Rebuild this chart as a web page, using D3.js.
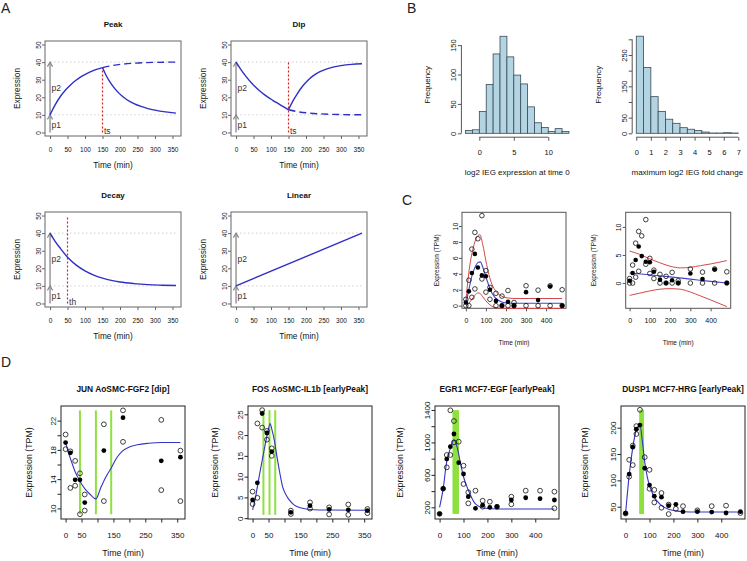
<!DOCTYPE html>
<html><head><meta charset="utf-8">
<script src="https://cdn.jsdelivr.net/npm/d3@7"></script>
<style>body{margin:0;background:#fff}</style>
</head><body><svg id="c" width="747" height="561" xmlns="http://www.w3.org/2000/svg"></svg>
<script>
// ---------------- DATA ----------------
// Panel A (model shapes)
const aTicksX = [0,50,100,150,200,250,300,350];
const aTicksY = [0,10,20,30,40,50];
const peakRise = [[0,10],[15,15.8],[30,20.6],[45,24.3],[60,27.3],[75,29.8],[90,31.9],[105,33.5],[120,34.9],[135,36],[150,36.9]];
const peakFall = [[150,36.9],[160,32.5],[175,27.6],[190,23.8],[205,20.9],[220,18.6],[240,16.4],[260,14.8],[280,13.6],[300,12.7],[330,11.7],[360,11.0]];
const peakDash = [[150,36.9],[180,38.1],[210,38.9],[240,39.4],[270,39.7],[300,39.85],[330,39.95],[360,40]];
const dipFall = [[0,40],[15,35.5],[30,31.5],[45,28],[60,25],[75,22.4],[90,20.2],[105,18.3],[120,16.5],[135,14.7],[150,12.9]];
const dipRise = [[150,12.9],[160,17],[175,22],[190,26.3],[205,29.6],[220,32.2],[240,34.6],[260,36.2],[280,37.3],[300,38],[330,38.7],[360,39.1]];
const dipDash = [[150,12.9],[180,11.7],[210,11],[240,10.6],[270,10.35],[300,10.2],[330,10.1],[360,10.05]];
const decayCurve = [[0,40],[15,35.2],[30,31.2],[50,26.3],[75,21.8],[100,18.5],[125,16.1],[150,14.4],[175,13.1],[200,12.2],[240,11.3],[280,10.7],[320,10.4],[360,10.2]];
const linearCurve = [[0,10],[360,40]];
const levelP1 = 10, levelP2 = 40;

// Panel B histograms
const hist1Edges = [-2,-1,0,1,2,3,4,5,6,7,8,9,10,11,12];
const hist1Counts = [5,6,37,83,135,165,130,99,84,45,18,10,3,8,3];
const hist2Edges = [0,0.5,1,1.5,2,2.5,3,3.5,4,4.5,5,5.5,6,6.5];
const hist2Counts = [310,210,117,70,45,32,18,13,9,4,1,1,2,1];

// Panel C
const cTime = [0,15,30,45,60,80,100,120,150,180,210,240,300,360,420,480];
const cMean = [0.4,1.8,4.1,6.5,4.8,3.8,3.7,2.0,0.6,0.0,0.5,0.0,1.7,0.7,2.4,0.0];
const cRep = [[0,0.8],[0,0],[15,3.2],[15,0],[30,7.1],[30,1.05],[45,9.2],[45,2.1],[60,8.4],[80,11.3],[80,3.35],[100,4.4],[100,1.7],[120,2.3],[120,0.8],[150,1.55],[150,0],[180,1.2],[180,0],[210,1.9],[210,0],[240,0.4],[240,0],[300,2.5],[300,0],[360,1.95],[360,0],[420,2.5],[420,0],[480,2.0],[480,0]];
const cFit = [[0,0.2],[15,2],[30,3.7],[45,4.8],[60,5.4],[72,5.5],[85,4.8],[100,3.6],[115,2.5],[130,1.6],[150,0.9],[175,0.5],[200,0.35],[250,0.3],[480,0.3]];
const cUpper = [[0,0.5],[15,4.2],[30,6.5],[45,8],[60,8.8],[70,8.9],[85,7.6],[100,5.6],[115,3.9],[130,2.7],[150,1.8],[175,1.25],[200,1.0],[250,0.9],[480,0.9]];
const cLower = [[0,-0.1],[15,0.3],[30,0.8],[45,1.3],[60,1.6],[70,1.55],[85,1.1],[100,0.6],[120,0.1],[140,-0.2],[170,-0.32],[200,-0.35],[480,-0.35]];
const c2Fit = [[0,1.8],[100,1.45],[200,1.1],[300,0.7],[400,0.3],[480,0.0]];
const c2Upper = [[0,5.7],[50,5.1],[100,4.3],[150,3.6],[200,3.0],[250,2.7],[300,2.8],[350,3.1],[400,3.4],[480,4.0]];
const c2Lower = [[0,-2.2],[50,-1.8],[100,-1.4],[150,-1.1],[200,-1.0],[250,-1.1],[300,-1.6],[350,-2.3],[400,-3.0],[480,-4.2]];

// Panel D
const junT = [0,15,30,45,60,120,180,300,360];
const junMean = [19.0,17.6,13.9,13.9,10.8,17.9,22.4,16.5,17.0];
const junRep = [[0,20.1],[0,18.1],[15,17.8],[15,12.8],[30,16.5],[30,13.1],[45,14.8],[45,9.2],[60,11.9],[60,9.7],[120,21.5],[120,11.0],[180,23.4],[180,19.1],[300,22.1],[300,12.5],[360,17.9],[360,11.0]];
const junFit = [[0,19],[10,17.5],[20,16.2],[30,15],[45,13.7],[60,12.7],[75,12.0],[95,11.3],[110,12.8],[125,14.2],[144,15.6],[160,16.9],[177,17.8],[200,18.4],[225,18.7],[260,18.9],[300,19],[360,19]];
const junSwitch = [45,95,143];

const fosT = [0,15,30,45,60,120,180,240,300,360];
const fosMean = [4.4,8.5,25.2,20.5,16.0,1.4,3.0,2.1,2.0,1.8];
const fosRep = [[0,6.4],[0,3.4],[15,4.9],[15,22.8],[30,26.0],[30,21.8],[45,21.0],[45,18.9],[60,16.8],[60,15.0],[120,1.8],[120,1.0],[180,3.8],[180,2.3],[240,2.6],[240,0.9],[300,3.3],[300,0.8],[360,2.2],[360,1.2]];
const fosFit = [[0,2],[8,4.5],[15,7.6],[23,11],[31,14.3],[39,17.5],[47,20.4],[55,22.8],[60,21.5],[68,18.8],[76,15],[85,11],[94,7.6],[105,5.6],[115,4.4],[130,3.2],[150,2.5],[180,2.1],[240,1.95],[360,1.9]];
const fosSwitch = [34,53,71];

const egrT = [0,15,30,45,60,80,100,120,150,180,210,240,300,360,420,480];
const egrMean = [120,430,795,947,1104,750,611,331,188,228,200,207,290,318,306,290];
const egrRep = [[0,120],[15,430],[30,845],[30,693],[45,1396],[45,845],[60,1264],[60,1001],[80,1009],[100,713],[100,487],[120,385],[120,249],[150,405],[180,281],[180,207],[210,269],[240,207],[300,331],[300,237],[360,405],[420,405],[480,393],[480,188]];
const egrFit = [[0,200],[15,430],[30,770],[45,925],[60,1030],[75,923],[86,762],[100,577],[120,413],[148,249],[190,188],[240,180],[480,180]];
const egrSwitch = [58,62,66,70,74,77];

const duspT = [0,15,30,45,60,80,100,120,150,180,210,240,300,360,420,480];
const duspMean = [37.5,112,163,197,205,123,91,70,68,52,54.5,40.5,40.5,39.7,38,40.5];
const duspRep = [[0,37],[15,107],[15,139],[30,166],[30,129],[45,203],[45,188],[60,234],[80,144],[100,120],[100,84],[120,82],[120,58],[150,76],[150,48],[180,54],[180,36],[210,46],[240,51],[300,43],[360,51],[420,52],[480,38]];
const duspFit = [[0,37],[15,110],[30,162],[45,196],[60,205],[70,175],[80,135],[90,108],[100,90],[110,78],[120,68],[135,59],[150,52],[180,45],[210,42],[240,40.5],[300,40],[480,40]];
const duspSwitch = [61,64,67,70,73];

// ---------------- DRAWING ----------------
const FONT = "'Liberation Sans', Arial, Helvetica, sans-serif";
const svg = d3.select("#c").attr("font-family", FONT);

function panel(c){
  const g = svg.append("g");
  const x = d3.scaleLinear().domain(c.xd).range([c.x0,c.x1]);
  const y = d3.scaleLinear().domain(c.yd).range([c.y1,c.y0]);
  const ac = c.ac || "#555";
  if (c.box) g.append("rect").attr("x",c.x0).attr("y",c.y0).attr("width",c.x1-c.x0).attr("height",c.y1-c.y0)
    .attr("fill","none").attr("stroke",ac).attr("stroke-width",1);
  const xl = c.xl || c.xt, yl = c.yl || c.yt;
  const ax = d3.axisBottom(x).tickValues(c.xt).tickSize(c.tl).tickFormat(d => xl.indexOf(d)>=0 ? String(d) : "");
  const gx = g.append("g").attr("transform",`translate(0,${c.y1})`).call(ax);
  gx.select(".domain").remove();
  gx.attr("font-family",FONT).attr("font-size",c.tf);
  gx.selectAll("line").attr("stroke",ac);
  gx.selectAll("text").attr("y",c.xly).attr("dy","0.35em").attr("fill","#111");
  if (!c.box) gx.append("line").attr("x1",x(c.xt[0])).attr("x2",x(c.xt[c.xt.length-1])).attr("stroke",ac);
  const ay = d3.axisLeft(y).tickValues(c.yt).tickSize(c.tl).tickFormat(d => yl.indexOf(d)>=0 ? String(d) : "");
  const gy = g.append("g").attr("transform",`translate(${c.x0},0)`).call(ay);
  gy.select(".domain").remove();
  gy.attr("font-family",FONT).attr("font-size",c.tf);
  gy.selectAll("line").attr("stroke",ac);
  gy.selectAll("text").attr("x",0).attr("dy",null).attr("y",-c.ypad).attr("transform","rotate(-90)")
    .attr("text-anchor","middle").attr("fill","#111");
  if (!c.box) gy.append("line").attr("y1",y(c.yt[0])).attr("y2",y(c.yt[c.yt.length-1])).attr("stroke",ac);
  if (c.title) g.append("text").attr("x",(c.x0+c.x1)/2).attr("y",c.y0-c.tdy).attr("dy","0.35em")
    .attr("text-anchor","middle").attr("font-weight","bold").attr("font-size",c.tfs).attr("fill","#111").text(c.title);
  if (c.xlab) g.append("text").attr("x",(c.x0+c.x1)/2).attr("y",c.y1+c.xldy).attr("dy","0.35em")
    .attr("text-anchor","middle").attr("font-size",c.lfs).attr("fill","#111").text(c.xlab);
  if (c.ylab) g.append("text").attr("transform",`translate(${c.x0-c.yldx},${(c.y0+c.y1)/2}) rotate(-90)`)
    .attr("dy","0.35em").attr("text-anchor","middle").attr("font-size",c.lfs).attr("fill","#111").text(c.ylab);
  return {g,x,y};
}

function curve(p, data, color, width, dash){
  const ln = d3.line().x(d=>p.x(d[0])).y(d=>p.y(d[1])).curve(d3.curveMonotoneX);
  const path = p.g.append("path").attr("d",ln(data)).attr("fill","none").attr("stroke",color).attr("stroke-width",width);
  if (dash) path.attr("stroke-dasharray",dash);
}
function openPts(p, data, r){
  p.g.selectAll(null).data(data).enter().append("circle").attr("cx",d=>p.x(d[0])).attr("cy",d=>p.y(d[1]))
    .attr("r",r).attr("fill","none").attr("stroke","#111").attr("stroke-width",0.8);
}
function filledPts(p, ts, vs, r){
  p.g.selectAll(null).data(ts.map((t,i)=>[t,vs[i]])).enter().append("circle").attr("cx",d=>p.x(d[0])).attr("cy",d=>p.y(d[1]))
    .attr("r",r).attr("fill","#000");
}
function vline(p, t, v0, v1, color, width, dash){
  const l = p.g.append("line").attr("x1",p.x(t)).attr("x2",p.x(t)).attr("y1",p.y(v0)).attr("y2",p.y(v1))
    .attr("stroke",color).attr("stroke-width",width);
  if (dash) l.attr("stroke-dasharray",dash);
}
function label(txt, x, y, size){
  svg.append("text").attr("x",x).attr("y",y).attr("font-size",size).attr("fill","#222").text(txt);
}

// ----- Panel A -----
const BLUE = "#2f2fc8";
function aPanel(x0, y0, title){
  const p = panel({x0, x1:x0+136, y0, y1:y0+95, xd:[-14.4,374.4], yd:[-2,52], box:true, ac:"#666",
    xt:aTicksX, yt:aTicksY, tl:3, tf:6.5, xly:13.3, ypad:4.5, title, tdy:17, tfs:8,
    xlab:"Time (min)", xldy:29, ylab:"Expression", yldx:28, lfs:8.3});
  [levelP1, levelP2].forEach(v => p.g.append("line").attr("x1",p.x(0)).attr("x2",p.x(360)).attr("y1",p.y(v)).attr("y2",p.y(v))
    .attr("stroke","#cfcfcf").attr("stroke-width",1).attr("stroke-dasharray","1.5,2.5"));
  const ax = p.x(0);
  p.g.append("line").attr("x1",ax).attr("x2",ax).attr("y1",p.y(0)).attr("y2",p.y(levelP2)).attr("stroke","#888").attr("stroke-width",1.3);
  [levelP1, levelP2].forEach(v => p.g.append("path").attr("d",`M${ax-2.6},${p.y(v)+4.5}L${ax},${p.y(v)}L${ax+2.6},${p.y(v)+4.5}`)
    .attr("fill","none").attr("stroke","#888").attr("stroke-width",1.2));
  p.g.append("text").attr("x",ax+1.5).attr("y",p.y(4.5)).attr("dy","0.35em").attr("font-size",8.5).attr("fill","#333").text("p1");
  p.g.append("text").attr("x",ax+1.5).attr("y",p.y(25)).attr("dy","0.35em").attr("font-size",8.5).attr("fill","#333").text("p2");
  return p;
}
const RED = "#d42020";
let pA = aPanel(45, 41, "Peak");
vline(pA, 150, 0, 36.9, RED, 1.2, "2,2");
pA.g.append("text").attr("x",pA.x(150)+1.5).attr("y",pA.y(0)+1.5).attr("font-size",8.5).attr("fill","#333").text("ts");
curve(pA, peakDash, BLUE, 1.4, "7,4");
curve(pA, peakRise, BLUE, 1.4);
curve(pA, peakFall, BLUE, 1.4);

pA = aPanel(231, 41, "Dip");
vline(pA, 150, 0, 40, RED, 1.2, "2,2");
pA.g.append("text").attr("x",pA.x(150)+1.5).attr("y",pA.y(0)+1.5).attr("font-size",8.5).attr("fill","#333").text("ts");
curve(pA, dipDash, BLUE, 1.4, "7,4");
curve(pA, dipFall, BLUE, 1.4);
curve(pA, dipRise, BLUE, 1.4);

pA = aPanel(45, 212, "Decay");
vline(pA, 50, 0, 49, RED, 1.2, "2,2");
pA.g.append("text").attr("x",pA.x(50)+1.5).attr("y",pA.y(0)+1.5).attr("font-size",8.5).attr("fill","#333").text("th");
curve(pA, decayCurve, BLUE, 1.4);

pA = aPanel(231, 212, "Linear");
curve(pA, linearCurve, BLUE, 1.4);

// ----- Panel B -----
function histPanel(c, edges, counts, w){
  const p = panel(c);
  p.g.selectAll(null).data(edges.map((e,i)=>[e,counts[i]])).enter().append("rect")
    .attr("x",d=>p.x(d[0])).attr("width",d=>p.x(d[0]+w)-p.x(d[0]))
    .attr("y",d=>p.y(d[1])).attr("height",d=>p.y(0)-p.y(d[1]))
    .attr("fill","#b3d4e2").attr("stroke","#3a4a55").attr("stroke-width",0.8);
  return p;
}
histPanel({x0:461.4, x1:573.1, y0:32.4, y1:137.2, xd:[-2.6,13.6], yd:[-6.6,171.6], box:false, ac:"#555",
  xt:[0,5,10], yt:[0,50,100,150], tl:3.5, tf:7.5, xly:15.5, ypad:5, xlab:"log2 IEG expression at time 0", xldy:35,
  ylab:"Frequency", yldx:34, lfs:8}, hist1Edges, hist1Counts, 1);
histPanel({x0:632.2, x1:742.4, y0:32.3, y1:137.2, xd:[-0.28,7.28], yd:[-12.4,322.4], box:false, ac:"#555",
  xt:[0,1,2,3,4,5,6,7], yt:[0,50,100,150,200,250,300], yl:[0,50,150,250], tl:3.5, tf:7.5, xly:15.5, ypad:5,
  xlab:"maximum log2 IEG fold change", xldy:35, ylab:"Frequency", yldx:34, lfs:8}, hist2Edges, hist2Counts, 0.5);

// ----- Panel C -----
const CRED = "#d44a4a", CBLUE = "#4545cc";
let pC = panel({x0:462, x1:566, y0:212.3, y1:308.3, xd:[-19.2,499.2], yd:[-0.33,11.72], box:true, ac:"#555",
  xt:[0,100,200,300,400], yt:[0,2,4,6,8,10], tl:3, tf:7, xly:12, ypad:4.5, xlab:"Time (min)", xldy:34,
  ylab:"Expression (TPM)", yldx:25, lfs:6.5});
curve(pC, cUpper, CRED, 1);
curve(pC, cLower, CRED, 1);
curve(pC, cFit, CBLUE, 1.1);
openPts(pC, cRep, 2.3);
filledPts(pC, cTime, cMean, 2.3);

pC = panel({x0:625.7, x1:730.7, y0:212.3, y1:308.3, xd:[-19.2,499.2], yd:[-4.5,12.6], box:true, ac:"#555",
  xt:[0,100,200,300,400], yt:[0,5,10], tl:3, tf:7, xly:12, ypad:4.5, xlab:"Time (min)", xldy:34,
  ylab:"Expression (TPM)", yldx:32, lfs:6.5});
curve(pC, c2Upper, CRED, 1);
curve(pC, c2Lower, CRED, 1);
curve(pC, c2Fit, CBLUE, 1.1);
openPts(pC, cRep, 2.3);
filledPts(pC, cTime, cMean, 2.3);

// ----- Panel D -----
const GREEN = "#8fe040", DBLUE = "#3434c4";
function dPanel(c, T, M, R, F, S){
  const p = panel(Object.assign({y0:406, y1:519, box:true, ac:"#222", tl:3.5, tf:8, xly:16.5, ypad:5,
    tdy:17, tfs:8.4, xlab:"Time (min)", xldy:34, ylab:"Expression (TPM)", lfs:8.8}, c));
  const vals = R.map(d=>d[1]).concat(M);
  const lo = d3.min(vals), hi = d3.max(vals);
  S.forEach(t => vline(p, t, lo, hi, GREEN, 2));
  curve(p, F, DBLUE, 1.1);
  openPts(p, R, 2.4);
  filledPts(p, T, M, 2.4);
}
dPanel({x0:61, x1:185, xd:[-14.4,374.4], yd:[8.55,24.0], xt:[0,50,100,150,200,250,300,350], xl:[0,50,150,250,350],
  yt:[10,12,14,16,18,20,22], yl:[10,14,18,22], yldx:32.5, title:"JUN AoSMC-FGF2 [dip]"}, junT, junMean, junRep, junFit, junSwitch);
dPanel({x0:248, x1:372, xd:[-14.4,374.4], yd:[-0.2,27.0], xt:[0,50,100,150,200,250,300,350], xl:[0,50,150,250,350],
  yt:[0,5,10,15,20,25], yldx:33.5, title:"FOS AoSMC-IL1b [earlyPeak]"}, fosT, fosMean, fosRep, fosFit, fosSwitch);
dPanel({x0:435, x1:559, xd:[-19.2,499.2], yd:[56,1449], xt:[0,100,200,300,400],
  yt:[200,400,600,800,1000,1200,1400], yl:[200,600,1000,1400], yldx:35, title:"EGR1 MCF7-EGF [earlyPeak]"}, egrT, egrMean, egrRep, egrFit, egrSwitch);
dPanel({x0:621, x1:745, xd:[-19.2,499.2], yd:[26.6,241.2], xt:[0,100,200,300,400],
  yt:[50,100,150,200], yldx:36, title:"DUSP1 MCF7-HRG [earlyPeak]"}, duspT, duspMean, duspRep, duspFit, duspSwitch);

// ----- panel letters -----
label("A", 1, 13, 14);
label("B", 407, 13, 14);
label("C", 402, 205, 14);
label("D", 1, 367, 14);
</script></body></html>
